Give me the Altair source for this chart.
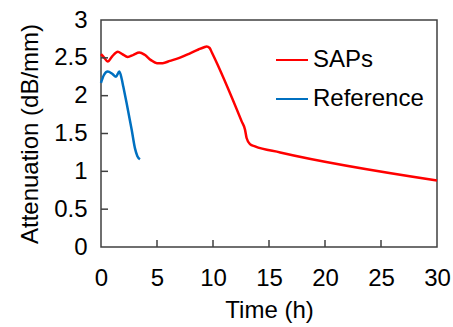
import altair as alt
import pandas as pd

# SAPs series
saps_t = [0, 0.3, 0.6, 1.0, 1.5, 1.9, 2.38, 2.9, 3.42, 3.9, 4.46, 5.0, 5.5, 6.16, 7.0, 7.95, 8.7, 9.2, 9.43, 9.7, 9.9,
          12.56, 12.86, 13.0, 13.3, 13.75, 16.0, 30.0]
saps_y = [2.55, 2.50, 2.45, 2.52, 2.58, 2.55, 2.51, 2.54, 2.57, 2.54, 2.47, 2.43, 2.43, 2.46, 2.50, 2.56, 2.61, 2.64, 2.65, 2.63, 2.57,
          1.66, 1.55, 1.44, 1.36, 1.33, 1.25, 0.88]
# Reference series
ref_t = [0, 0.25, 0.6, 1.0, 1.34, 1.64, 1.85, 1.99, 2.29, 2.74, 3.04, 3.25, 3.48]
ref_y = [2.17, 2.27, 2.32, 2.29, 2.25, 2.32, 2.22, 2.12, 1.90, 1.55, 1.30, 1.20, 1.16]

series_names = ["SAPs", "Reference"]
series_colors = ["#FF0000", "#0070C0"]

x_ticks = [0, 5, 10, 15, 20, 25, 30]
y_ticks = [0, 0.5, 1, 1.5, 2, 2.5, 3]
x_inner_ticks = [5, 10, 15, 20, 25]
y_inner_ticks = [0.5, 1, 1.5, 2, 2.5]

df = pd.concat([
    pd.DataFrame({"t": saps_t, "y": saps_y, "s": "SAPs", "o": range(len(saps_t))}),
    pd.DataFrame({"t": ref_t, "y": ref_y, "s": "Reference", "o": range(len(ref_t))}),
])

FONT = "Liberation Sans"
FS = 24
xscale = alt.Scale(domain=[0, 30], nice=False)
yscale = alt.Scale(domain=[0, 3], nice=False)

x_axis = alt.Axis(values=x_ticks, format="~g", title="Time (h)", labelPadding=19,
                  titleBaseline="alphabetic", titleY=70)
y_axis = alt.Axis(values=y_ticks, format="~g", title="Attenuation (dB/mm)", labelPadding=14,
                  titleBaseline="alphabetic", titleX=-64, titleY=113.5, titleAlign="center")

lines = alt.Chart(df).mark_line(strokeWidth=2.5, interpolate="monotone").encode(
    x=alt.X("t:Q", scale=xscale, axis=x_axis),
    y=alt.Y("y:Q", scale=yscale, axis=y_axis),
    color=alt.Color("s:N", scale=alt.Scale(domain=series_names, range=series_colors),
                    sort=series_names,
                    legend=alt.Legend(title=None, orient="none", legendX=174, legendY=23,
                                      symbolType="stroke", symbolSize=1024, symbolStrokeWidth=2,
                                      labelFontSize=FS, labelFont=FONT, labelColor="black",
                                      labelOffset=4, rowPadding=10, padding=0)),
    order="o:Q",
)

ytick_df = pd.DataFrame({"y": y_inner_ticks})
xtick_df = pd.DataFrame({"t": x_inner_ticks})
yt = alt.Chart(ytick_df).mark_rule(color="#404040", strokeWidth=1.5).encode(
    y=alt.Y("y:Q", scale=yscale, axis=y_axis), x=alt.value(0), x2=alt.value(7))
xt = alt.Chart(xtick_df).mark_rule(color="#404040", strokeWidth=1.5).encode(
    x=alt.X("t:Q", scale=xscale, axis=x_axis), y=alt.value(227), y2=alt.value(220))

chart = alt.layer(lines, yt, xt).properties(
    width=336, height=227,
    background="white",
    autosize=alt.AutoSizeParams(type="none"),
    padding={"left": 101, "top": 20, "right": 16, "bottom": 80},
).configure_view(
    stroke="#404040", strokeWidth=1.5
).configure_axis(
    ticks=False, grid=False, domain=False, labelFlush=False, labelOverlap=False,
    labelFontSize=FS, labelFont=FONT, labelColor="black",
    titleFontSize=FS, titleFont=FONT, titleFontWeight="normal", titleColor="black",
)

chart.save("out.html", embed_options={"renderer": "svg", "actions": False})
